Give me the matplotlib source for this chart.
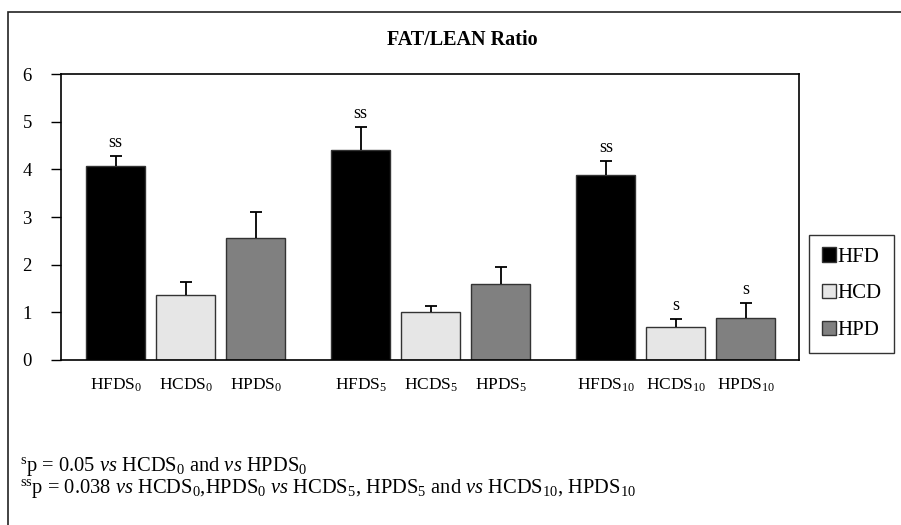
import numpy as np
import matplotlib.pyplot as plt
from matplotlib.patches import Rectangle

plt.rcParams['font.family'] = 'Liberation Serif'
plt.rcParams['mathtext.fontset'] = 'custom'
plt.rcParams['mathtext.rm'] = 'Liberation Serif'
plt.rcParams['mathtext.it'] = 'Liberation Serif:italic'
plt.rcParams['mathtext.bf'] = 'Liberation Serif:bold'

# data
labels = [r'HFDS$_0$', r'HCDS$_0$', r'HPDS$_0$',
          r'HFDS$_5$', r'HCDS$_5$', r'HPDS$_5$',
          r'HFDS$_{10}$', r'HCDS$_{10}$', r'HPDS$_{10}$']
values = [4.08, 1.36, 2.57, 4.40, 1.00, 1.59, 3.88, 0.69, 0.88]
errors = [0.20, 0.27, 0.53, 0.49, 0.14, 0.36, 0.30, 0.17, 0.32]
marks = ['ss', '', '', 'ss', '', '', 'ss', 's', 's']
diets = ['HFD', 'HCD', 'HPD']
colors = ['#000000', '#e6e6e6', '#808080']
positions = [0, 1, 2, 3.5, 4.5, 5.5, 7, 8, 9]

fig = plt.figure(figsize=(9.01, 5.25), dpi=100)
ax = fig.add_axes([0.0677, 0.3143, 0.8191, 0.5447])

bars = []
for i in range(len(values)):
    b = ax.bar(positions[i], values[i], width=0.84, color=colors[i % 3],
               edgecolor='#333333', linewidth=1, zorder=2)
    eb = ax.errorbar(positions[i], values[i], yerr=[[0], [errors[i]]], fmt='none',
                     ecolor='black', elinewidth=1.3, capsize=4.5, capthick=1.3, zorder=3)
    eb[1][0].set_visible(False)  # no cap at bar top
    if marks[i]:
        ax.text(positions[i], values[i] + errors[i] + 0.1, marks[i],
                ha='center', va='bottom', fontsize=13)
    if i < 3:
        bars.append(b)

ax.set_xlim(-0.78, 9.76)
ax.set_ylim(0, 6)
ax.set_yticks(np.arange(0, 7, 1))
ax.set_xticks(positions)
ax.set_xticklabels(labels)
ax.tick_params(axis='y', direction='out', length=7, width=1, pad=14, labelsize=13.5)
ax.tick_params(axis='x', length=0, pad=12, labelsize=12.5)
for s in ax.spines.values():
    s.set_linewidth(1.2)
    s.set_color('black')

fig.text(0.513, 0.923, 'FAT/LEAN Ratio', ha='center', va='center',
         fontsize=14.5, fontweight='bold')

leg = fig.legend(bars, diets, loc='upper left', bbox_to_anchor=(0.898, 0.553),
                 frameon=True, fancybox=False, edgecolor='black', fontsize=15,
                 handlelength=0.68, handleheight=0.7, handletextpad=0.1,
                 labelspacing=0.82, borderpad=0.6, borderaxespad=0)
leg.get_frame().set_linewidth(1)

fig.text(0.022, 0.112, r'$^\mathrm{s}$p = 0.05 $\mathit{vs}$ HCDS$_0$ and $\mathit{vs}$ HPDS$_0$',
         fontsize=14.8, va='center')
fig.text(0.022, 0.069, r'$^\mathrm{ss}$p = 0.038 $\mathit{vs}$ HCDS$_0$,HPDS$_0$ $\mathit{vs}$ HCDS$_5$, HPDS$_5$ and $\mathit{vs}$ HCDS$_{10}$, HPDS$_{10}$',
         fontsize=14.8, va='center')

# outer frame
fig.patches.append(Rectangle((0.009, -0.1), 1.1, 1.077, transform=fig.transFigure,
                             fill=False, edgecolor='#222222', linewidth=1.2))

fig.savefig('out.png', dpi=100)
